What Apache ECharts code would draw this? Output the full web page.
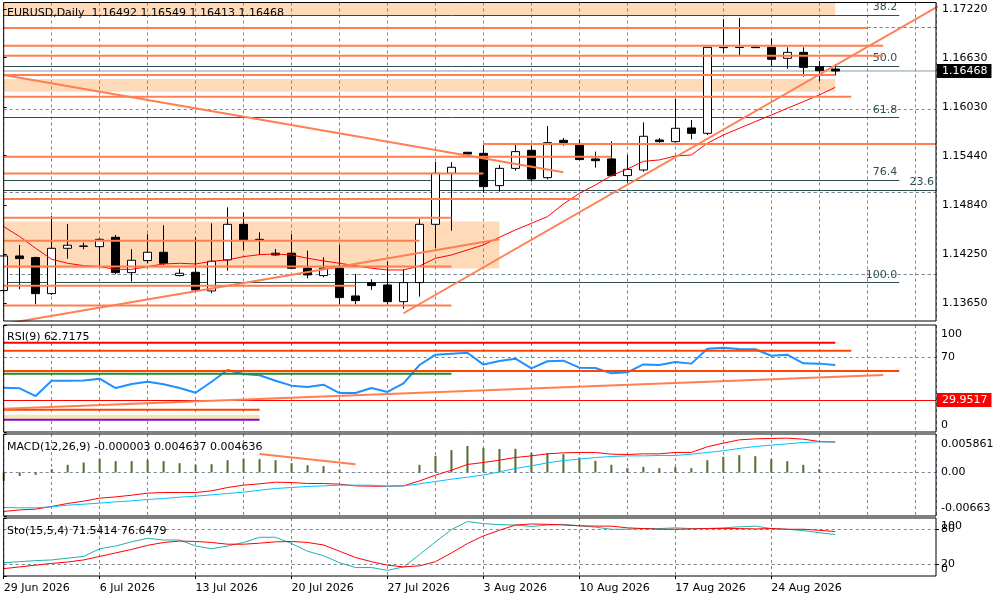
<!DOCTYPE html>
<html><head><meta charset="utf-8">
<script src="https://cdn.jsdelivr.net/npm/echarts@6/dist/echarts.min.js"></script>
<style>html,body{margin:0;padding:0;background:#fff}#c{width:1000px;height:600px}</style>
</head><body><div id="c"></div>
<script>
// ---------- DATA ----------
const dates = ['29 Jun 2026','30 Jun 2026','1 Jul 2026','2 Jul 2026','3 Jul 2026','5 Jul 2026',
 '6 Jul 2026','7 Jul 2026','8 Jul 2026','9 Jul 2026','10 Jul 2026','12 Jul 2026',
 '13 Jul 2026','14 Jul 2026','15 Jul 2026','16 Jul 2026','17 Jul 2026','19 Jul 2026',
 '20 Jul 2026','21 Jul 2026','22 Jul 2026','23 Jul 2026','24 Jul 2026','26 Jul 2026',
 '27 Jul 2026','28 Jul 2026','29 Jul 2026','30 Jul 2026','31 Jul 2026','2 Aug 2026',
 '3 Aug 2026','4 Aug 2026','5 Aug 2026','6 Aug 2026','7 Aug 2026','9 Aug 2026',
 '10 Aug 2026','11 Aug 2026','12 Aug 2026','13 Aug 2026','14 Aug 2026','16 Aug 2026',
 '17 Aug 2026','18 Aug 2026','19 Aug 2026','20 Aug 2026','21 Aug 2026','23 Aug 2026',
 '24 Aug 2026','25 Aug 2026','26 Aug 2026','27 Aug 2026','28 Aug 2026'];

const opens  = [1.13804,1.14224,1.14204,1.13767,1.14317,1.14345,1.14337,1.14451,1.14022,1.14168,1.14269,1.13986,1.14026,1.13800,1.14176,1.14608,1.14426,1.14257,1.14257,1.14075,1.13986,1.14075,1.13739,1.13901,1.13872,1.13670,1.13901,1.14608,1.15227,1.15482,1.15469,1.15077,1.15287,1.15506,1.15174,1.15627,1.15571,1.15401,1.15401,1.15199,1.15267,1.15631,1.15611,1.15777,1.15712,1.16755,1.16755,1.16759,1.16755,1.16622,1.16694,1.16521,1.16492];
const highs  = [1.14257,1.14358,1.14216,1.14709,1.14612,1.14386,1.14438,1.14479,1.14305,1.14487,1.14596,1.14067,1.14451,1.14620,1.14814,1.14754,1.14511,1.14309,1.14487,1.14289,1.14208,1.14358,1.14006,1.13941,1.14155,1.14062,1.14673,1.15364,1.15364,1.15486,1.15571,1.15328,1.15571,1.15566,1.15801,1.15655,1.15639,1.15490,1.15615,1.15449,1.15845,1.15655,1.16132,1.15874,1.16757,1.17099,1.17111,1.16759,1.16864,1.16755,1.16755,1.16589,1.16549];
const lows   = [1.13771,1.13820,1.13638,1.13751,1.14192,1.14305,1.14095,1.14002,1.13913,1.14135,1.14115,1.13978,1.13800,1.13771,1.14046,1.14297,1.14236,1.14228,1.14071,1.13953,1.13965,1.13638,1.13638,1.13812,1.13642,1.13585,1.13731,1.14317,1.14531,1.15457,1.14992,1.15004,1.15259,1.15126,1.15154,1.15562,1.15385,1.15296,1.15190,1.15114,1.15247,1.15599,1.15599,1.15639,1.15692,1.16682,1.16662,1.16751,1.16529,1.16496,1.16399,1.16347,1.16413];
const closes = [1.14224,1.14192,1.13767,1.14317,1.14354,1.14341,1.14426,1.14022,1.14172,1.14269,1.14135,1.14014,1.13812,1.14159,1.14608,1.14418,1.14418,1.14236,1.14075,1.13994,1.14075,1.13719,1.13682,1.13864,1.13670,1.13901,1.14608,1.15227,1.15300,1.15461,1.15065,1.15287,1.15490,1.15158,1.15599,1.15599,1.15393,1.15380,1.15199,1.15275,1.15676,1.15611,1.15773,1.15712,1.16755,1.16751,1.16753,1.16751,1.16610,1.16694,1.16512,1.16472,1.16468];
const maLine = [1.14580,1.14459,1.14317,1.14184,1.14135,1.14107,1.14095,1.14062,1.14062,1.14095,1.14127,1.14135,1.14127,1.14159,1.14176,1.14216,1.14240,1.14248,1.14236,1.14196,1.14164,1.14135,1.14107,1.14075,1.14054,1.14054,1.14103,1.14196,1.14236,1.14297,1.14358,1.14451,1.14540,1.14620,1.14701,1.14855,1.14984,1.15085,1.15199,1.15279,1.15372,1.15389,1.15437,1.15449,1.15591,1.15692,1.15773,1.15854,1.15934,1.16015,1.16096,1.16177,1.16270];

const rsiValues = [41.4,40.8,33.6,47.9,47.9,48.2,49.8,41.1,44.9,47.0,44.6,41.1,36.7,47.0,57.9,54.2,53.0,47.9,43.3,42.1,44.2,36.4,36.4,41.1,37.4,45.5,62.6,72.3,73.2,74.1,63.0,66.3,68.5,59.5,66.1,66.7,60.1,59.8,54.8,55.8,63.2,62.6,65.4,63.9,77.9,78.8,77.6,77.3,71.3,72.3,64.2,63.9,62.7];

const macdHist = [-0.00128,-0.00052,-0.00036,0.00050,0.00116,0.00152,0.00207,0.00172,0.00172,0.00192,0.00172,0.00142,0.00116,0.00126,0.00187,0.00207,0.00203,0.00187,0.00142,0.00111,0.00096,0.00046,0.00005,0.00002,-0.00015,0.00003,0.00116,0.00253,0.00340,0.00403,0.00375,0.00358,0.00360,0.00299,0.00294,0.00279,0.00228,0.00177,0.00116,0.00066,0.00086,0.00066,0.00081,0.00066,0.00187,0.00238,0.00264,0.00248,0.00203,0.00172,0.00116,0.00050,-0.000003];
const macdMain = [-0.00594,-0.00570,-0.00559,-0.00518,-0.00472,-0.00437,-0.00391,-0.00372,-0.00346,-0.00315,-0.00305,-0.00305,-0.00305,-0.00280,-0.00229,-0.00193,-0.00173,-0.00148,-0.00153,-0.00168,-0.00168,-0.00178,-0.00204,-0.00209,-0.00209,-0.00204,-0.00128,-0.00041,0.00035,0.00122,0.00152,0.00187,0.00228,0.00253,0.00284,0.00299,0.00305,0.00305,0.00279,0.00274,0.00284,0.00284,0.00305,0.00305,0.00391,0.00447,0.00497,0.00512,0.00518,0.00523,0.00508,0.00472,0.004637];
const macdSignal = [-0.00533,-0.00538,-0.00538,-0.00523,-0.00498,-0.00483,-0.00467,-0.00447,-0.00432,-0.00411,-0.00396,-0.00376,-0.00361,-0.00341,-0.00320,-0.00300,-0.00270,-0.00244,-0.00229,-0.00213,-0.00204,-0.00193,-0.00193,-0.00193,-0.00209,-0.00204,-0.00173,-0.00138,-0.00102,-0.00072,-0.00038,0.00010,0.00061,0.00101,0.00147,0.00182,0.00203,0.00228,0.00243,0.00253,0.00253,0.00259,0.00259,0.00279,0.00305,0.00330,0.00366,0.00396,0.00416,0.00436,0.00457,0.00467,0.004636];

const stoMain = [22.9,24.7,26.5,27.7,30.8,33.7,47.0,51.7,58.9,65.0,62.0,62.0,51.7,47.0,51.7,57.8,66.8,66.8,56.0,42.7,35.0,22.9,14.6,14.6,9.7,15.7,36.8,58.9,80.0,93.9,90.3,88.5,87.9,85.4,87.9,89.1,86.6,84.2,80.6,80.6,81.8,81.8,83.0,81.8,81.8,83.0,84.8,86.0,81.8,80.6,78.2,74.6,71.5];
const stoSignal = [12.7,15.7,18.7,21.7,24.1,27.7,33.7,39.8,45.8,52.9,57.8,60.2,59.6,57.8,54.8,54.8,56.6,58.9,59.6,57.8,53.5,42.7,31.9,24.7,18.7,15.7,17.5,24.7,39.8,56.0,69.2,78.8,87.9,89.7,89.1,87.9,86.6,86.0,86.0,83.0,81.8,80.6,80.6,81.2,81.8,81.8,81.8,81.2,81.8,80.6,80.6,78.8,76.6];

const priceTicks = [1.13650,1.14250,1.14840,1.15440,1.16030,1.16630,1.17220];
const lastPrice = 1.16468;
// horizontal levels: [price, fromBar, toBar] (toBar null = to right edge)
const priceLevels = [[1.16990,0,54],[1.16775,0,55],[1.16654,0,55],[1.16420,0,52],[1.16157,0,53],
 [1.15583,30,null],[1.15429,0,38],[1.15223,0,30],[1.14915,0,36],[1.14689,0,28],
 [1.14410,0,26],[1.14095,0,28],[1.13864,0,22],[1.13622,0,28]];
// zones: [topPrice, bottomPrice, fromBar, toBar]
const priceZones = [[1.17299,1.17147,0,52],[1.16371,1.16217,0,52],[1.14641,1.14071,0,31]];
// trend lines: [bar1, price1, bar2, price2]
const trendLines = [[0,1.16420,35,1.15239],[0,1.13398,31,1.14426],[25,1.13529,60,1.17427]];
// fibonacci levels: [label, price, toBar] (null = right edge)
const fibLevels = [['38.2',1.17147,56],['50.0',1.16529,56],['61.8',1.15906,56],['76.4',1.15146,56],['100.0',1.13901,56],['23.6',1.15025,null]];
// RSI window objects: [value, fromBar, toBar]
const rsiLevels = [[83.5,0,52],[76.0,0,53],[57.0,0,56],[54.5,0,28],[20.9,0,16],[14.3,0,16],[11.5,0,16]];
const rsiTrend = [0,21.8,55,53.3];
const rsiMark = 29.9517;
const macdTrend = [16,0.00283,22,0.00126];
const rsiTicks = [0,70,100];
const macdTicks = [-0.00663,0,0.005861];
const stoEdgeTicks = [0,100];
const stoLevelTicks = [20,80];

// ---------- CHART ----------
const FONT = 'DejaVu Sans';
const GRIDC = '#778899';
const CORAL = '#FF7F50';
const XMAX = 58.3;
const Y_MIN = 1.13435, Y_MAX = 1.17299;
const rsiColors = [['#FF0000',2],['#FF4500',2],['#FF4500',2],['#228B22',2],['#FF4500',2],['#EEE8AA',4],['#9400D3',2]];

const chart = echarts.init(document.getElementById('c'));
const gridDefs = [[2.5,318.5],[325,107],[434,82],[518,58]];
const grid = gridDefs.map(g => ({left:3.7, right:64, top:g[0], height:g[1], show:true, borderColor:'#000', borderWidth:1, backgroundColor:'transparent', z:10}));

const xAxis = [0,1,2,3].map(gi => ({
  type:'value', gridIndex:gi, min:0, max:XMAX, interval:3,
  axisLine:{show:false},
  axisTick: gi===3 ? {show:true, customValues:[0,6,12,18,24,30,36,42,48], length:3, lineStyle:{color:'#000'}} : {show:false},
  splitLine:{show:true, lineStyle:{color:GRIDC, type:[3,3], width:1}},
  axisLabel: gi===3 ? {show:true, align:'left', margin:7, color:'#000', fontSize:11, fontFamily:FONT,
     formatter: v => (Number.isInteger(v) && v % 6 === 0 && v < dates.length) ? dates[v] : ''} : {show:false}
}));

function yax(gi, min, max, ticks, fmt, edge){
  const lab = {customValues:ticks, margin:5, color:'#000', fontSize:11, fontFamily:FONT, showMinLabel:true, showMaxLabel:true, hideOverlap:false};
  if (edge){
    lab.verticalAlignMaxLabel='top'; lab.verticalAlignMinLabel='bottom';
    lab.formatter = v => v === max ? '{t|' + fmt(v) + '}' : (v === min ? '{b|' + fmt(v) + '}' : fmt(v));
    lab.rich = {t:{padding:[edge[0],0,0,0], fontSize:11, fontFamily:FONT, color:'#000'},
                b:{padding:[0,0,edge[1],0], fontSize:11, fontFamily:FONT, color:'#000'}};
  } else {
    lab.formatter = fmt;
    lab.margin = 6;
  }
  return {type:'value', gridIndex:gi, position:'right', min, max,
    splitLine:{show:false}, axisLine:{show:false},
    axisTick:{show:true, customValues:ticks, length:3, lineStyle:{color:'#000'}},
    axisLabel:lab};
}
const yAxis = [
  yax(0, Y_MIN, Y_MAX, priceTicks, v => v.toFixed(5), null),
  yax(1, 0, 100, rsiTicks, v => String(v), [4,1]),
  yax(2, -0.00663, 0.005861, macdTicks, v => v === 0 ? '0.00' : String(v), [5,2]),
  yax(3, 0, 100, stoEdgeTicks, v => String(v), [3,1]),
  // current price tag on the main panel
  {type:'value', gridIndex:0, position:'right', min:Y_MIN, max:Y_MAX,
   splitLine:{show:false}, axisLine:{show:false}, axisTick:{show:false},
   axisLabel:{customValues:[lastPrice], margin:1, formatter: v => '{c|' + v.toFixed(5) + '}',
     rich:{c:{backgroundColor:'#000', color:'#fff', padding:[2,4,1,5], fontSize:11, fontFamily:FONT}}}},
  // stochastic 20/80 level labels
  {type:'value', gridIndex:3, position:'right', min:0, max:100,
   splitLine:{show:false}, axisLine:{show:false},
   axisTick:{show:true, customValues:stoLevelTicks, length:3, lineStyle:{color:'#000'}},
   axisLabel:{customValues:stoLevelTicks, margin:5, color:'#000', fontSize:11, fontFamily:FONT, formatter: v => String(v)}}
];

const idx = a => a.map((v,i) => [i, v]);
function seg(gi, pts, color, width, z){
  return {type:'line', xAxisIndex:gi, yAxisIndex:gi, data:pts, symbol:'none', showSymbol:false,
    lineStyle:{color, width}, z, silent:true, clip:true};
}
function gridLines(gi, vals){
  return {type:'line', xAxisIndex:gi, yAxisIndex:gi, data:[], silent:true,
    markLine:{silent:true, z:1, symbol:['none','none'], label:{show:false}, animation:false,
      lineStyle:{color:GRIDC, type:[3,3], width:1}, data: vals.map(v => ({yAxis:v}))}};
}

const series = [];
// zones
series.push({type:'line', xAxisIndex:0, yAxisIndex:0, data:[], silent:true,
  markArea:{silent:true, z:-1, itemStyle:{color:'#FFDAB9', opacity:1}, animation:false,
    data: priceZones.map(z => [{coord:[z[2], z[0]]},{coord:[z[3], z[1]]}])}});
series.push(gridLines(0, priceTicks));
// current price line
series.push(seg(0, [[0, lastPrice],[XMAX, lastPrice]], '#8C99A6', 1, 1));
// fib levels
series.push({type:'line', xAxisIndex:0, yAxisIndex:0, data:[], silent:true,
  markLine:{silent:true, z:3, symbol:['none','none'], animation:false,
    lineStyle:{color:'#2F4F4F', type:'solid', width:1},
    label:{show:true, position:'insideEndTop', distance:2, formatter: p => p.name, color:'#2F4F4F', fontSize:11, fontFamily:FONT},
    data: fibLevels.map(f => [{name:f[0], coord:[0, f[1]]},{name:f[0], coord:[f[2] === null ? XMAX : f[2], f[1]]}])}});
// candles
series.push({type:'candlestick', xAxisIndex:0, yAxisIndex:0, z:3, clip:true, barWidth:9,
  data: opens.map((o,i) => [i, o, closes[i], lows[i], highs[i]]),
  encode:{x:0, y:[1,2,3,4]},
  itemStyle:{color:'#fff', color0:'#000', borderColor:'#000', borderColor0:'#000', borderColorDoji:'#000', borderWidth:1}});
// MA
series.push(seg(0, idx(maLine), '#FF0000', 1, 4));
// level lines and trends
priceLevels.forEach(l => series.push(seg(0, [[l[1], l[0]],[l[2] === null ? XMAX : l[2], l[0]]], CORAL, 2, 5)));
trendLines.forEach(t => series.push(seg(0, [[t[0], t[1]],[t[2], t[3]]], CORAL, 2, 5)));

// RSI
series.push(gridLines(1, [70, 30]));
series.push(seg(1, idx(rsiValues), '#1E90FF', 2, 3));
rsiLevels.forEach((l,i) => series.push(seg(1, [[l[1], l[0]],[l[2], l[0]]], rsiColors[i][0], rsiColors[i][1], 4)));
series.push(seg(1, [[rsiTrend[0], rsiTrend[1]],[rsiTrend[2], rsiTrend[3]]], CORAL, 2, 5));
series.push({type:'line', xAxisIndex:1, yAxisIndex:1, data:[], silent:true,
  markLine:{silent:true, z:3, symbol:['none','none'], animation:false,
    lineStyle:{color:'#FF0000', type:'solid', width:1},
    label:{show:true, position:'end', distance:1, formatter: String(rsiMark), backgroundColor:'#FF0000', color:'#fff',
      padding:[2,4,1,5], fontSize:11, fontFamily:FONT},
    data:[{yAxis:rsiMark}]}});

// MACD
series.push(gridLines(2, [0]));
series.push({type:'bar', xAxisIndex:2, yAxisIndex:2, data: idx(macdHist), barWidth:2, itemStyle:{color:'#556B2F'}, z:2, silent:true});
series.push(seg(2, idx(macdMain), '#FF0000', 1, 3));
series.push(seg(2, idx(macdSignal), '#00BFFF', 1, 3));
series.push(seg(2, [[macdTrend[0], macdTrend[1]],[macdTrend[2], macdTrend[3]]], CORAL, 2, 5));

// Stochastic
series.push(gridLines(3, stoLevelTicks));
series.push(seg(3, idx(stoMain), '#20B2AA', 1, 3));
series.push(seg(3, idx(stoSignal), '#FF0000', 1, 3));

const txt = (x, y, t) => ({type:'text', left:x, top:y, z:100, style:{text:t, fill:'#000', font:'11px "DejaVu Sans"'}});
chart.setOption({
  animation:false,
  backgroundColor:'#fff',
  textStyle:{fontFamily:FONT},
  grid, xAxis, yAxis, series,
  graphic:[
    txt(7, 8, 'EURUSD,Daily  ' + [opens[52], highs[52], lows[52], closes[52]].map(v => v.toFixed(5)).join(' ')),
    txt(7, 332, 'RSI(9) ' + '62.7175'),
    txt(7, 442, 'MACD(12,26,9) -0.000003 0.004637 0.004636'),
    txt(7, 526, 'Sto(15,5,4) 71.5414 76.6479')
  ]
});
</script></body></html>
